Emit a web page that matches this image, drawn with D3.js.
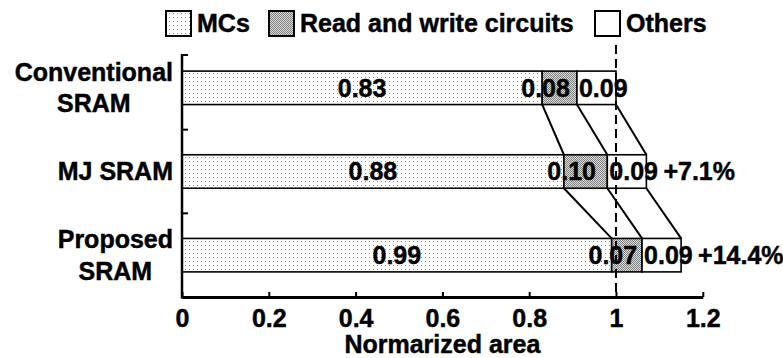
<!DOCTYPE html>
<html>
<head>
<meta charset="utf-8">
<script src="https://cdn.jsdelivr.net/npm/d3@7"></script>
<style>
  html, body { margin: 0; padding: 0; background: #fff; }
  svg text { font-family: "Liberation Sans", Arial, sans-serif; font-weight: bold; fill: #000; stroke: #000; stroke-width: 0.45px; }
</style>
</head>
<body>
<svg id="chart" width="783" height="358"></svg>
<script>
// ---- data ----
const categories = ["Conventional SRAM", "MJ SRAM", "Proposed SRAM"];
const categoryLines = [["Conventional", "SRAM"], ["MJ SRAM"], ["Proposed", "SRAM"]];
const seriesNames = ["MCs", "Read and write circuits", "Others"];
const mcValues = [0.83, 0.88, 0.99];
const rwValues = [0.08, 0.10, 0.07];
const otherValues = [0.09, 0.09, 0.09];
const increaseLabels = ["", "+7.1%", "+14.4%"];
const xTickValues = [0, 0.2, 0.4, 0.6, 0.8, 1.0, 1.2];
const xTickLabels = ["0", "0.2", "0.4", "0.6", "0.8", "1", "1.2"];
const xTitle = "Normarized area";
const referenceValue = 1.0;

const svg = d3.select("#chart");
const FS = 25;

// patterns
const defs = svg.append("defs");
const pMC = defs.append("pattern").attr("id", "pMC").attr("patternUnits", "userSpaceOnUse")
  .attr("width", 4).attr("height", 4);
pMC.append("rect").attr("width", 4).attr("height", 4).attr("fill", "#fff");
pMC.append("rect").attr("x", 1).attr("y", 1).attr("width", 1).attr("height", 1).attr("fill", "#8a8a8a");
const pRW = defs.append("pattern").attr("id", "pRW").attr("patternUnits", "userSpaceOnUse")
  .attr("width", 2).attr("height", 2);
pRW.append("rect").attr("width", 2).attr("height", 2).attr("fill", "#dcdcdc");
pRW.append("rect").attr("x", 0).attr("y", 0).attr("width", 1).attr("height", 1).attr("fill", "#808080");
pRW.append("rect").attr("x", 1).attr("y", 1).attr("width", 1).attr("height", 1).attr("fill", "#808080");
const fills = ["url(#pMC)", "url(#pRW)", "#fff"];

// scales
const x = d3.scaleLinear().domain([0, 1.2]).range([182, 702.8]);
const y = d3.scaleBand().domain(categories).range([46, 297]).paddingInner(0.6).paddingOuter(0.3);
const bw = y.bandwidth();

// stacked data
const rows = categories.map((c, i) => {
  const vals = [mcValues[i], rwValues[i], otherValues[i]];
  let acc = 0;
  const segs = vals.map((v, j) => { const s = { x0: acc, x1: acc + v, v, j, cat: c }; acc += v; return s; });
  return { cat: c, segs, total: acc, i };
});

// connector lines
const gConn = svg.append("g");
for (let i = 0; i < rows.length - 1; i++) {
  for (let j = 0; j < 3; j++) {
    gConn.append("line")
      .attr("x1", x(rows[i].segs[j].x1)).attr("y1", y(rows[i].cat) + bw)
      .attr("x2", x(rows[i + 1].segs[j].x1)).attr("y2", y(rows[i + 1].cat))
      .attr("stroke", "#000").attr("stroke-width", 2);
  }
}

// bars
const gBars = svg.append("g");
rows.forEach(r => {
  r.segs.forEach(s => {
    gBars.append("rect")
      .attr("x", x(s.x0)).attr("y", y(r.cat))
      .attr("width", x(s.x1) - x(s.x0)).attr("height", bw)
      .attr("fill", fills[s.j]).attr("stroke", "#000").attr("stroke-width", 1.6);
  });
});

// dashed reference line
svg.append("line")
  .attr("x1", x(referenceValue)).attr("x2", x(referenceValue))
  .attr("y1", 45).attr("y2", 297)
  .attr("stroke", "#000").attr("stroke-width", 2).attr("stroke-dasharray", "9,5");

// value labels
const gLab = svg.append("g").style("font-size", FS + "px");
rows.forEach(r => {
  const cy = y(r.cat) + bw / 2 + FS * 0.35;
  r.segs.forEach(s => {
    const t = gLab.append("text").attr("y", cy).text(s.v.toFixed(2));
    if (s.j === 0) {
      t.attr("x", (x(s.x0) + x(s.x1)) / 2).attr("text-anchor", "middle");
    } else if (s.j === 1) {
      t.attr("x", (x(s.x0) + x(s.x1)) / 2 - 14).attr("text-anchor", "middle");
    } else {
      t.attr("x", x(s.x0) + 2).attr("text-anchor", "start");
    }
  });
  if (increaseLabels[r.i]) {
    gLab.append("text").attr("x", x(r.total) + 17).attr("y", cy).text(increaseLabels[r.i]);
  }
});

// x axis
const xAxis = d3.axisBottom(x).tickValues(xTickValues)
  .tickFormat((d, i) => xTickLabels[i]).tickSize(-5).tickSizeOuter(0).tickPadding(12);
const gx = svg.append("g").attr("transform", "translate(0,297)").call(xAxis);
gx.select(".domain").attr("stroke", "#000").attr("stroke-width", 3);
gx.selectAll(".tick line").attr("stroke", "#000").attr("stroke-width", 2);
gx.selectAll(".tick text").style("font-size", FS + "px").style("font-family", "Liberation Sans, Arial, sans-serif").style("font-weight", "bold").attr("fill", "#000");

svg.append("text").attr("x", x(0.6)).attr("y", 353).attr("text-anchor", "middle")
  .style("font-size", FS + "px").text(xTitle);

// y axis
const gy = svg.append("g");
gy.append("line").attr("x1", 182).attr("x2", 182).attr("y1", 54).attr("y2", 298.5)
  .attr("stroke", "#000").attr("stroke-width", 2.5);
const yTicks = [55].concat(categories.slice(1).map(c => y(c) - y.step() * y.paddingInner() / 2));
yTicks.forEach(t => {
  gy.append("line").attr("x1", 182).attr("x2", 188).attr("y1", t).attr("y2", t)
    .attr("stroke", "#000").attr("stroke-width", 2);
});

// y category labels (block right-aligned, lines centered)
const lineH = 31.5;
categories.forEach((c, i) => {
  const lines = categoryLines[i];
  const g = svg.append("g").style("font-size", FS + "px");
  const texts = lines.map(l => g.append("text").attr("text-anchor", "middle").text(l));
  const maxW = d3.max(texts, t => t.node().getComputedTextLength());
  const cx = 173 - maxW / 2;
  const cyc = y(c) + bw / 2;
  const first = cyc - (lines.length - 1) * lineH / 2 + FS * 0.35;
  texts.forEach((t, k) => t.attr("x", cx).attr("y", first + k * lineH));
});

// legend
const legendX = [166, 269, 595];
const gLeg = svg.append("g").style("font-size", FS + "px");
seriesNames.forEach((n, j) => {
  gLeg.append("rect").attr("x", legendX[j]).attr("y", 11).attr("width", 25).attr("height", 25)
    .attr("fill", fills[j]).attr("stroke", "#000").attr("stroke-width", 2);
  gLeg.append("text").attr("x", legendX[j] + 31).attr("y", 32).text(n);
});
</script>
</body>
</html>
